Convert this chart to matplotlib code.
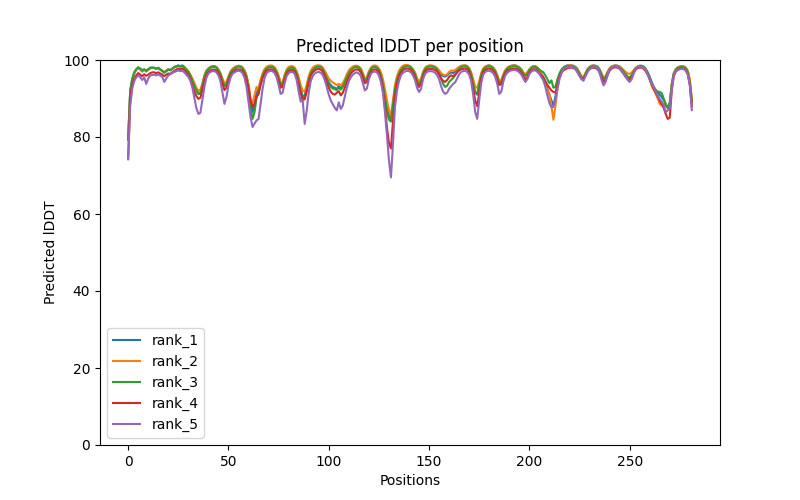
import matplotlib
matplotlib.use("Agg")
import matplotlib.pyplot as plt
import numpy as np

labels = ["rank_1", "rank_2", "rank_3", "rank_4", "rank_5"]

rank_1 = [
    80, 92, 95, 96.5, 97.5, 98, 97.5, 97, 97.5, 97,
    97.5, 98, 98, 98, 97.8, 98, 97.6, 97.2, 96.8,
    97.2, 97.6, 97.4, 97.8, 98.2, 98.4, 98.6, 98.4, 98.6, 98.2,
    97.6, 97, 96, 94.8, 93.5, 92.2, 91.2, 91.5, 93.5, 95.8,
    97.2, 97.8, 98.2, 98.4, 98.4, 98.2, 97.5, 96.5, 94.8,
    93.3, 93.8, 95.5, 96.8, 97.6, 98, 98.3, 98.5, 98.4,
    98, 97.2, 95.8, 93.5, 89, 86.5, 88.5, 91.5, 92.5, 94.5,
    96.2, 97.4, 98, 98.3, 98.4, 98.3, 97.9, 97, 95.6, 93.6,
    93.8, 95.8, 97.2, 97.9, 98.2, 98.2, 97.8, 96.8, 95,
    92.5, 90.5, 90.8, 92.8, 95.2, 96.8, 97.6, 98.1, 98.4, 98.5,
    98.3, 97.8, 96.8, 95.5, 94.2, 93.5, 93, 92.8, 92.5, 93.2,
    92.6, 93.4, 94.5, 95.8, 96.8, 97.5, 98, 98.3, 98.4,
    98.2, 97.6, 96.2, 94.8, 95.2, 96.8, 97.8, 98.3, 98.4, 98.2,
    97.6, 96.2, 94, 91, 88, 85.5, 84.5, 88.5, 92.5, 95,
    96.6, 97.6, 98.2, 98.5, 98.6, 98.5, 98.2, 97.5, 96.5,
    94.8, 93.9, 94.8, 96.6, 97.8, 98.3, 98.5, 98.5, 98.4, 98.2,
    97.8, 97, 96.2, 95.8, 95.7, 96, 96.5, 96.8, 96.6, 97,
    97.6, 98.1, 98.4, 98.5, 98.6, 98.4, 97.8, 96.5, 94.2,
    91.5, 91, 93.5, 96.2, 97.6, 98.2, 98.5, 98.6, 98.4, 98,
    97.2, 95.8, 94.2, 94.4, 96, 97.2, 97.9, 98.3, 98.5,
    98.6, 98.6, 98.4, 98.1, 97.5, 96.6, 96.1, 96.6, 97.5, 98.1,
    98.4, 98.4, 98, 97.3, 96.4, 95.5, 94, 92.5, 91,
    89.5, 88.2, 90.5, 93.5, 95.8, 97.2, 98, 98.4, 98.6, 98.6,
    98.6, 98.5, 98.2, 97.6, 96.6, 95.6, 95.4, 96.5, 97.6, 98.2,
    98.5, 98.6, 98.5, 98.3, 97.6, 96.4, 95.2, 95.6, 96.8,
    97.8, 98.3, 98.5, 98.6, 98.5, 98.3, 97.8, 97.2, 96.4,
    95.6, 95.2, 95.8, 97, 97.9, 98.3, 98.5, 98.5, 98.3, 97.7,
    96.8, 95.6, 94.2, 93, 92.2, 91.6, 91, 90.4, 89.6, 88.6,
    87.6, 88.2, 93.5, 96.5, 97.6, 98.1, 98.3, 98.4, 98.3, 98,
    97, 94.5, 89.5,
]

rank_2 = [
    79.5, 91.5, 94.8, 96.5, 97.4, 97.8, 97.6, 97.2, 97.4, 97.2,
    97.4, 97.8, 97.9, 98, 97.7, 97.9, 97.5, 97.2, 96.9,
    97.2, 97.5, 97.4, 97.7, 98.1, 98.3, 98.5, 98.3, 98.4, 98.1,
    97.6, 97.1, 96.2, 95.2, 94, 92.8, 92, 92.3, 94, 96,
    97.3, 97.8, 98.1, 98.3, 98.3, 98.1, 97.5, 96.6, 95.2,
    93.9, 94.3, 95.8, 97, 97.7, 98.1, 98.4, 98.5, 98.4,
    98, 97.3, 96, 93.5, 90, 88.6, 91, 93, 92.3, 94.8,
    96.5, 97.6, 98.2, 98.5, 98.6, 98.5, 98.1, 97.3, 96, 94.2,
    94.3, 96.2, 97.5, 98.2, 98.4, 98.4, 98, 97.1, 95.5,
    93.5, 92, 91.8, 93.6, 95.8, 97.2, 98, 98.4, 98.6, 98.6,
    98.5, 98, 97.2, 96.2, 95.2, 94.6, 94.2, 93.8, 93.5, 93.8,
    93.4, 94, 95, 96.3, 97.3, 97.9, 98.3, 98.5, 98.5,
    98.3, 97.8, 96.6, 95.2, 95.5, 97, 98, 98.5, 98.6, 98.4,
    97.8, 96.8, 95, 92.5, 89.5, 87, 85.5, 89.5, 93.5, 95.8,
    97.2, 98, 98.5, 98.7, 98.7, 98.5, 98.2, 97.6, 96.8,
    95.3, 94.4, 95.2, 96.9, 98, 98.4, 98.6, 98.6, 98.5, 98.3,
    97.9, 97.3, 96.6, 96.2, 96, 96.3, 96.9, 97.3, 97.2, 97.4,
    97.8, 98.2, 98.5, 98.6, 98.6, 98.4, 97.9, 96.8, 95,
    93, 92.8, 94.5, 96.6, 97.8, 98.3, 98.5, 98.6, 98.4, 98,
    97.3, 96.2, 94.6, 94.8, 96.3, 97.4, 98, 98.3, 98.5,
    98.6, 98.6, 98.4, 98.1, 97.6, 96.8, 96.3, 96.8, 97.6, 98.1,
    98.4, 98.4, 98, 97.2, 96.2, 95.2, 93.8, 92.2, 91.2,
    88, 84.5, 88, 92.5, 95.5, 97, 98, 98.4, 98.6, 98.6,
    98.6, 98.5, 98.2, 97.6, 96.8, 95.8, 95.6, 96.6, 97.6, 98.2,
    98.5, 98.6, 98.5, 98.2, 97.5, 96.4, 95.4, 95.8, 96.9,
    97.8, 98.3, 98.5, 98.6, 98.5, 98.3, 97.9, 97.4, 96.9,
    96.5, 96.4, 96.7, 97.4, 98, 98.3, 98.5, 98.5, 98.2, 97.5,
    96.5, 95, 93.2, 92.3, 91.2, 90, 88.6, 88.2, 88.5, 88.4,
    87.8, 88.8, 93.8, 96.6, 97.6, 98.1, 98.3, 98.4, 98.3, 98,
    97.2, 95, 90,
]

rank_3 = [
    79.2, 91.8, 95, 96.8, 97.6, 98.1, 97.8, 97.4, 97.6, 97.3,
    97.6, 98, 98, 97.9, 97.7, 97.9, 97.5, 97.1, 96.7,
    97.1, 97.5, 97.3, 97.7, 98.1, 98.3, 98.5, 98.3, 98.5, 98.1,
    97.5, 96.9, 95.9, 94.6, 93.3, 92, 91.1, 91.3, 93.3, 95.6,
    97, 97.6, 98, 98.2, 98.2, 98, 97.3, 96.3, 94.6,
    93.2, 93.6, 95.3, 96.6, 97.4, 97.8, 98.1, 98.3, 98.2,
    97.8, 97, 95.5, 92.5, 87.5, 84.7, 86.5, 90.2, 91.5, 93.8,
    95.8, 97.1, 97.8, 98.1, 98.2, 98.1, 97.7, 96.8, 95.3, 93.4,
    93.6, 95.6, 97, 97.7, 98, 98, 97.6, 96.5, 94.6,
    92, 90.1, 90.2, 92.3, 94.8, 96.5, 97.4, 97.9, 98.2, 98.3,
    98.1, 97.6, 96.5, 95.1, 93.8, 93, 92.6, 92.4, 92.2, 92.8,
    92.3, 93, 94.2, 95.5, 96.6, 97.3, 97.8, 98.1, 98.2,
    98, 97.4, 96, 94.6, 94.9, 96.6, 97.6, 98.1, 98.2, 98,
    97.4, 96, 93.6, 90.2, 86.5, 84.5, 84, 88, 92.2, 94.8,
    96.4, 97.4, 98, 98.3, 98.4, 98.3, 98, 97.3, 96.3,
    94.6, 93.7, 94.5, 96.4, 97.6, 98.1, 98.3, 98.3, 98.2, 98,
    97.5, 96.5, 95.2, 93.8, 93, 93.3, 94.3, 94.8, 95.3, 96,
    96.9, 97.7, 98.2, 98.3, 98.4, 98.2, 97.6, 96.2, 93.8,
    91.5, 91.3, 93.4, 96, 97.4, 98, 98.3, 98.4, 98.2, 97.8,
    97, 95.6, 94, 94.2, 95.8, 97, 97.7, 98.1, 98.3,
    98.4, 98.4, 98.2, 97.9, 97.3, 96.4, 95.9, 96.4, 97.3, 97.9,
    98.2, 98.2, 97.9, 97.5, 97.1, 96.8, 96, 95, 94,
    94.7, 92.8, 93, 95, 96.5, 97.5, 98, 98.3, 98.4, 98.4,
    98.4, 98.3, 98, 97.4, 96.4, 95.5, 95.3, 96.3, 97.4, 98,
    98.3, 98.4, 98.3, 98.1, 97.4, 96.2, 95, 95.4, 96.6,
    97.6, 98.1, 98.3, 98.4, 98.3, 98.1, 97.6, 97, 96.2,
    95.6, 95.5, 96, 97, 97.8, 98.2, 98.4, 98.4, 98.2, 97.6,
    96.7, 95.5, 94, 93, 92.2, 91.8, 91.7, 91.4, 90, 88.2,
    87.5, 89, 93.6, 96.4, 97.4, 97.9, 98.1, 98.2, 98.1, 97.8,
    96.8, 94.2, 89,
]

rank_4 = [
    74.5, 90, 93.5, 95, 96, 96.6, 96.2, 95.8, 96.3, 95.9,
    96.2, 96.6, 96.8, 96.8, 96.6, 96.8, 96.5, 96.2, 95.8,
    96.2, 96.5, 96.4, 96.8, 97.2, 97.5, 97.8, 97.6, 97.8, 97.4,
    96.8, 96.1, 94.9, 93.4, 91.8, 90.6, 89.9, 90.2, 92.2, 94.6,
    96.1, 96.9, 97.3, 97.5, 97.5, 97.3, 96.7, 95.6, 93.8,
    92.2, 92.8, 94.6, 96, 96.8, 97.2, 97.5, 97.6, 97.5,
    97.1, 96.3, 94.8, 92.6, 89.5, 87.8, 88.5, 90.5, 91.2, 93.5,
    95.3, 96.5, 97.2, 97.5, 97.6, 97.5, 97.1, 96.2, 94.7, 92.8,
    93, 95, 96.4, 97.1, 97.4, 97.4, 97, 95.8, 93.8,
    91.3, 89.6, 89.8, 91.8, 94.2, 95.9, 96.8, 97.3, 97.6, 97.7,
    97.5, 97, 95.8, 94.3, 92.8, 91.8, 91.2, 91, 91.5, 91.9,
    90.8, 91.5, 92.8, 94.3, 95.6, 96.5, 97.1, 97.4, 97.6,
    97.4, 96.8, 95.4, 94, 94.3, 95.9, 96.9, 97.4, 97.6, 97.4,
    96.8, 95.2, 92.5, 88, 82.5, 78.5, 77, 84, 90.5, 93.8,
    95.8, 96.8, 97.4, 97.7, 97.8, 97.7, 97.4, 96.7, 95.6,
    93.9, 93, 93.8, 95.7, 97, 97.5, 97.7, 97.7, 97.6, 97.4,
    97, 96.2, 95.2, 94.6, 94.3, 94.8, 95.6, 96, 95.8, 96.2,
    96.8, 97.3, 97.6, 97.7, 97.8, 97.6, 97, 95.4, 92.5,
    89.5, 88, 91.5, 95.2, 96.8, 97.4, 97.7, 97.8, 97.6, 97.2,
    96.4, 95, 93.5, 93.7, 95.3, 96.5, 97.2, 97.5, 97.7,
    97.8, 97.8, 97.6, 97.3, 96.7, 95.8, 95, 95.6, 96.7, 97.3,
    97.6, 97.6, 97.2, 96.6, 96, 95.5, 94.5, 93.5, 92.8,
    92.1, 91.7, 91.5, 93.5, 95.5, 96.7, 97.3, 97.6, 97.9, 98,
    98, 97.9, 97.6, 96.9, 95.9, 95.1, 95, 96, 97, 97.6,
    97.9, 98, 97.9, 97.6, 96.8, 95.5, 94.3, 94.8, 96.1,
    97.2, 97.8, 98, 98.1, 98, 97.7, 97.1, 96.4, 95.6,
    95, 94.9, 95.5, 96.6, 97.5, 97.9, 98, 98, 97.7, 97.1,
    96.2, 95, 93.8, 92.5, 91.5, 90.5, 89.5, 88.5, 87.5, 86,
    84.7, 85, 92, 95.8, 97, 97.5, 97.7, 97.8, 97.7, 97.3,
    96.3, 93.5, 88,
]

rank_5 = [
    74.2, 88, 92.5, 94.5, 95.5, 96, 95.5, 94.8, 95.5, 93.8,
    95.2, 96, 96.1, 96.2, 96, 96.3, 95.9, 95.6, 94.3,
    95.2, 96, 96.3, 96.6, 96.9, 97.1, 97.3, 97.1, 97.2, 96.8,
    96.2, 95.6, 94.6, 92.8, 90.2, 87.5, 86, 86.3, 89.6, 93,
    95.4, 96.5, 96.9, 97.1, 97.1, 96.8, 96, 94.5, 91.6,
    88.6, 90.4, 93.5, 95.4, 96.4, 96.8, 97.1, 97.2, 97.1,
    96.6, 95.4, 93, 89, 85.2, 82.6, 83.5, 84.3, 84.7, 88.5,
    92.5, 95.3, 96.6, 97, 97.2, 97.1, 96.6, 95.5, 93.5, 91.2,
    91.5, 94, 95.8, 96.6, 96.9, 96.9, 96.4, 94.8, 91.8,
    89.2, 89.5, 83.4, 86.8, 91.5, 94.5, 95.8, 96.5, 96.8, 96.9,
    96.7, 96.1, 94.8, 93, 91, 89.5, 88.5, 87.6, 86.9, 89,
    87.3, 88.2, 90.5, 92.8, 94.5, 95.5, 96.2, 96.6, 96.8,
    96.5, 95.8, 94, 92.1, 92.6, 95, 96.4, 96.9, 97, 96.8,
    96, 94.3, 91.5, 86.5, 80.5, 74, 69.5, 78, 87.8, 92,
    94.5, 96, 96.7, 97, 97.2, 97.1, 96.8, 96, 94.8,
    92.8, 91.7, 92.5, 95, 96.4, 96.9, 97.1, 97.1, 97, 96.7,
    96.1, 95, 93.2, 91.8, 91.2, 91.5, 92.5, 93.2, 93.8, 94.2,
    95.2, 96.3, 96.9, 97.1, 97.2, 96.9, 96.2, 94.5, 91,
    86.5, 84.7, 89.5, 94, 96.2, 96.9, 97.2, 97.2, 97, 96.6,
    95.6, 93.8, 91.2, 91.8, 94.3, 96, 96.7, 97.1, 97.3,
    97.4, 97.4, 97.2, 96.8, 96.2, 95.2, 94.3, 95, 96.4, 97,
    97.3, 97.3, 96.9, 96.4, 95.5, 94.7, 93, 90.8, 88.8,
    87.8, 87.8, 89.6, 92.5, 95, 96.5, 97.6, 98, 98.1, 98.2,
    98.2, 98, 97.7, 96.8, 96, 95, 94.6, 95.8, 96.9, 97.6,
    98, 98.2, 98.1, 97.8, 96.8, 94.8, 93.4, 94.3, 96,
    97.6, 98, 98.2, 98.3, 98.2, 97.9, 97.2, 96.5, 95.8,
    94.8, 94.3, 95, 96.5, 97.8, 98.1, 98.2, 98.1, 97.9, 97.4,
    96.3, 95, 93.8, 93, 91.8, 90.8, 89.9, 89.2, 88.2, 86.5,
    86.9, 87.5, 92.5, 96, 97, 97.4, 97.6, 97.7, 97.6, 97.2,
    96.2, 93.5, 87,
]

series = [rank_1, rank_2, rank_3, rank_4, rank_5]

fig, ax = plt.subplots(figsize=(8, 5), dpi=100)
for lab, vals in zip(labels, series):
    ax.plot(np.arange(len(vals)), vals, label=lab)

ax.set_ylim(0, 100)
ax.set_title("Predicted lDDT per position")
ax.set_xlabel("Positions")
ax.set_ylabel("Predicted lDDT")
ax.legend(loc="lower left")
fig.savefig("out.png", dpi=100)
